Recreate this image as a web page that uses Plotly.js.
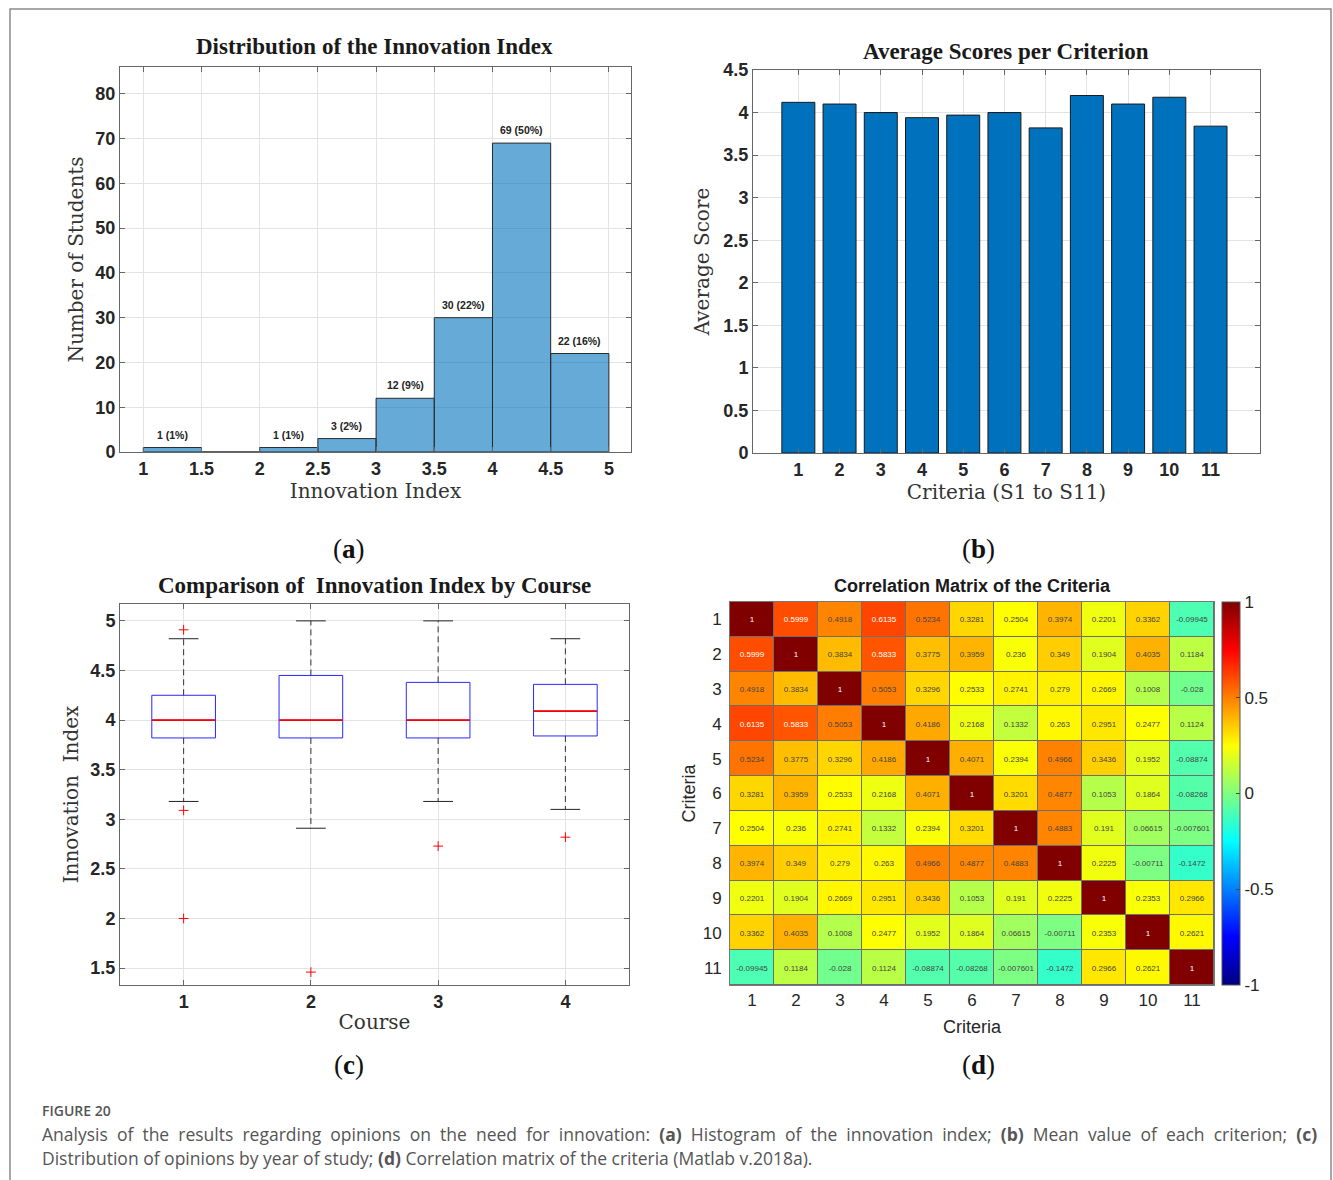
<!DOCTYPE html>
<html>
<head>
<meta charset="utf-8">
<script src="https://cdn.plot.ly/plotly-3.0.1.min.js"></script>
<style>html,body{margin:0;padding:0;background:#fff;}#chart{width:1333px;height:1180px;}</style>
</head>
<body>
<div id="chart"></div>
<script>
// ---------- DATA ----------
// (a) histogram of the innovation index
const histEdges = [1, 1.5, 2, 2.5, 3, 3.5, 4, 4.5, 5];
const histCounts = [1, 0, 1, 3, 12, 30, 69, 22];
const histTicks = [1, 1.5, 2, 2.5, 3, 3.5, 4, 4.5, 5];

// (b) average score per criterion
const criteria = [1, 2, 3, 4, 5, 6, 7, 8, 9, 10, 11];
const avgScores = [4.12, 4.10, 4.00, 3.94, 3.97, 4.00, 3.82, 4.20, 4.10, 4.18, 3.84];

// (c) box plot of innovation index by course
const courses = [1, 2, 3, 4];
const boxQ1 = [3.82, 3.82, 3.82, 3.84];
const boxMedian = [4.00, 4.00, 4.00, 4.09];
const boxQ3 = [4.25, 4.45, 4.38, 4.36];
const whiskerLow = [3.18, 2.91, 3.18, 3.10];
const whiskerHigh = [4.82, 5.00, 5.00, 4.82];
const outlierCourse = [1, 1, 1, 2, 3, 4];
const outlierValue = [4.91, 3.09, 2.00, 1.46, 2.73, 2.82];

// (d) correlation matrix of the criteria
const corr = [
  [1, 0.5999, 0.4918, 0.6135, 0.5234, 0.3281, 0.2504, 0.3974, 0.2201, 0.3362, -0.09945],
  [0.5999, 1, 0.3834, 0.5833, 0.3775, 0.3959, 0.236, 0.349, 0.1904, 0.4035, 0.1184],
  [0.4918, 0.3834, 1, 0.5053, 0.3296, 0.2533, 0.2741, 0.279, 0.2669, 0.1008, -0.028],
  [0.6135, 0.5833, 0.5053, 1, 0.4186, 0.2168, 0.1332, 0.263, 0.2951, 0.2477, 0.1124],
  [0.5234, 0.3775, 0.3296, 0.4186, 1, 0.4071, 0.2394, 0.4966, 0.3436, 0.1952, -0.08874],
  [0.3281, 0.3959, 0.2533, 0.2168, 0.4071, 1, 0.3201, 0.4877, 0.1053, 0.1864, -0.08268],
  [0.2504, 0.236, 0.2741, 0.1332, 0.2394, 0.3201, 1, 0.4883, 0.191, 0.06615, -0.007601],
  [0.3974, 0.349, 0.279, 0.263, 0.4966, 0.4877, 0.4883, 1, 0.2225, -0.00711, -0.1472],
  [0.2201, 0.1904, 0.2669, 0.2951, 0.3436, 0.1053, 0.191, 0.2225, 1, 0.2353, 0.2966],
  [0.3362, 0.4035, 0.1008, 0.2477, 0.1952, 0.1864, 0.06615, -0.00711, 0.2353, 1, 0.2621],
  [-0.09945, 0.1184, -0.028, 0.1124, -0.08874, -0.08268, -0.007601, -0.1472, 0.2966, 0.2621, 1]
];
const colorbarTicks = [-1, -0.5, 0, 0.5, 1];
const colorbarLabels = ['-1', '-0.5', '0', '0.5', '1'];

// ---------- HELPERS ----------
const W = 1333, H = 1180;
const xd = (a, b) => [a / W, b / W];
const yd = (top, bottom) => [1 - bottom / H, 1 - top / H];
const px = v => v / W;
const py = v => 1 - v / H;

const SERIF = 'Liberation Serif, Times New Roman, serif';
const WSERIF = 'DejaVu Serif, serif';
const SANS = 'Liberation Sans, Arial, sans-serif';
const CAP = 'Open Sans, Lato, sans-serif';
const tickFont = {family: SANS, size: 18, color: '#262626', weight: 700};
const axisTitleFont = {family: WSERIF, size: 20, color: '#333'};
const axisCommon = {
  showline: true, linecolor: '#666', linewidth: 1, mirror: 'allticks',
  ticks: 'inside', ticklen: 5, tickcolor: '#666',
  showgrid: true, gridcolor: '#e3e3e3', zeroline: false,
  automargin: false, tickfont: tickFont, fixedrange: true
};

// ---------- TRACES ----------
const total = histCounts.reduce((s, v) => s + v, 0);
const histCenters = histCounts.map((_, i) => (histEdges[i] + histEdges[i + 1]) / 2);
const histWidths = histCounts.map((_, i) => histEdges[i + 1] - histEdges[i]);
const histLabels = histCounts.map(c => c > 0 ? `${c} (${Math.round(100 * c / total)}%)` : '');

const traceHist = {
  type: 'bar', x: histCenters, y: histCounts, width: histWidths,
  xaxis: 'x', yaxis: 'y',
  marker: {color: 'rgba(0,114,189,0.6)', line: {color: '#2b2b2b', width: 1}},
  hoverinfo: 'skip', showlegend: false
};

const traceBars = {
  type: 'bar', x: criteria, y: avgScores, width: 0.8,
  xaxis: 'x2', yaxis: 'y2',
  marker: {color: '#0072BD', line: {color: '#1a1a1a', width: 1}},
  hoverinfo: 'skip', showlegend: false
};

const traceBox = {
  type: 'box', x: courses, q1: boxQ1, median: boxMedian, q3: boxQ3,
  lowerfence: boxQ1, upperfence: boxQ3, width: 0.5, whiskerwidth: 0,
  xaxis: 'x3', yaxis: 'y3',
  line: {color: 'rgb(40,40,255)', width: 1}, fillcolor: 'rgba(0,0,0,0)',
  boxpoints: false, hoverinfo: 'skip', showlegend: false
};

// whiskers (dashed), caps, medians
const wx = [], wy = [], cx = [], cy = [], mx = [], my = [];
courses.forEach((c, i) => {
  wx.push(c, c, null, c, c, null);
  wy.push(boxQ3[i], whiskerHigh[i], null, boxQ1[i], whiskerLow[i], null);
  cx.push(c - 0.117, c + 0.117, null, c - 0.117, c + 0.117, null);
  cy.push(whiskerHigh[i], whiskerHigh[i], null, whiskerLow[i], whiskerLow[i], null);
  mx.push(c - 0.248, c + 0.248, null);
  my.push(boxMedian[i], boxMedian[i], null);
});
const traceWhisk = {type: 'scatter', mode: 'lines', x: wx, y: wy, xaxis: 'x3', yaxis: 'y3',
  line: {color: '#333', width: 1, dash: '6px,4px'}, hoverinfo: 'skip', showlegend: false};
const traceCaps = {type: 'scatter', mode: 'lines', x: cx, y: cy, xaxis: 'x3', yaxis: 'y3',
  line: {color: '#222', width: 1}, hoverinfo: 'skip', showlegend: false};
const traceMed = {type: 'scatter', mode: 'lines', x: mx, y: my, xaxis: 'x3', yaxis: 'y3',
  line: {color: 'rgb(255,0,0)', width: 1.6}, hoverinfo: 'skip', showlegend: false};
const traceOut = {type: 'scatter', mode: 'markers', x: outlierCourse, y: outlierValue,
  xaxis: 'x3', yaxis: 'y3', cliponaxis: false,
  marker: {symbol: 'cross-thin', size: 7, line: {color: 'rgb(255,0,0)', width: 1}},
  hoverinfo: 'skip', showlegend: false};

const fmt = v => String(parseFloat(v.toPrecision(4)));
const corrText = corr.map(r => r.map(fmt));
const jet = [[0, 'rgb(0,0,128)'], [0.125, 'rgb(0,0,255)'], [0.375, 'rgb(0,255,255)'],
             [0.625, 'rgb(255,255,0)'], [0.875, 'rgb(255,0,0)'], [1, 'rgb(128,0,0)']];
const traceHeat = {
  type: 'heatmap', z: corr, x: criteria, y: criteria, xaxis: 'x4', yaxis: 'y4',
  zmin: -1, zmax: 1, colorscale: jet, xgap: 1, ygap: 1,
  text: corrText, texttemplate: '%{text}', textfont: {family: SANS, size: 8},
  hoverinfo: 'skip',
  colorbar: {
    x: 1222 / W, xanchor: 'left', xpad: 0, y: py(793.5), yanchor: 'middle', ypad: 0,
    len: 383 / H, lenmode: 'fraction', thickness: 18, thicknessmode: 'pixels',
    outlinewidth: 1, outlinecolor: '#555', tickvals: colorbarTicks, ticktext: colorbarLabels,
    ticks: 'inside', ticklen: 4, tickcolor: '#444',
    tickfont: {family: SANS, size: 17, color: '#262626'}
  }
};

// ---------- LAYOUT ----------
const serifTitle = (t, x, y) => ({text: t, x: px(x), y: py(y), xref: 'paper', yref: 'paper',
  showarrow: false, xanchor: 'center', yanchor: 'middle',
  font: {family: SERIF, size: 23, color: '#1a1a1a', weight: 700}});
const panelLabel = (l, x, y) => ({text: '(<b>' + l + '</b>)', x: px(x), y: py(y), xref: 'paper', yref: 'paper',
  showarrow: false, xanchor: 'center', yanchor: 'middle',
  font: {family: SERIF, size: 27, color: '#111'}});

// histogram count labels placed just above each bar
const histAnn = histCounts.map((c, i) => ({
  text: histLabels[i], x: histCenters[i], y: c, xref: 'x', yref: 'y', showarrow: false,
  xanchor: 'center', yanchor: 'bottom', yshift: 5,
  font: {family: SANS, size: 10.5, color: '#222', weight: 700}
})).filter(a => a.text !== '');

const just = s => s.split(' ').join(' \u00a0');

const layout = {
  width: W, height: H, margin: {l: 0, r: 0, t: 0, b: 0},
  paper_bgcolor: '#fff', plot_bgcolor: '#fff', showlegend: false,
  bargap: 0,
  xaxis: Object.assign({}, axisCommon, {domain: xd(120, 631), range: [0.8, 5.19], tickvals: histTicks,
    anchor: 'y', title: {text: 'Innovation Index', standoff: 2, font: axisTitleFont}}),
  yaxis: Object.assign({}, axisCommon, {domain: yd(67, 452), range: [0, 86], dtick: 10, anchor: 'x',
    title: {text: 'Number of Students', standoff: 6, font: axisTitleFont}}),
  xaxis2: Object.assign({}, axisCommon, {domain: xd(753, 1260), range: [-0.1, 12.2], tickvals: criteria, anchor: 'y2',
    title: {text: 'Criteria (S1 to S11)', standoff: 2, font: axisTitleFont}}),
  yaxis2: Object.assign({}, axisCommon, {domain: yd(70, 453), range: [0, 4.5], dtick: 0.5, anchor: 'x2',
    title: {text: 'Average Score', standoff: 8, font: axisTitleFont}}),
  xaxis3: Object.assign({}, axisCommon, {domain: xd(120, 629), range: [0.5, 4.5], tickvals: courses, anchor: 'y3',
    title: {text: 'Course', standoff: 4, font: axisTitleFont}}),
  yaxis3: Object.assign({}, axisCommon, {domain: yd(604, 985), range: [1.33, 5.17], dtick: 0.5, anchor: 'x3',
    title: {text: 'Innovation\u00a0\u00a0Index', standoff: 6, font: axisTitleFont}}),
  xaxis4: {domain: xd(730, 1214), anchor: 'y4', showline: true, mirror: true, linecolor: '#777', linewidth: 1,
    ticks: '', showgrid: false, zeroline: false, automargin: false, fixedrange: true,
    tickvals: criteria, tickfont: {family: SANS, size: 17, color: '#262626'},
    title: {text: 'Criteria', standoff: 10, font: {family: SANS, size: 18, color: '#262626'}}},
  yaxis4: {domain: yd(602, 985), anchor: 'x4', autorange: 'reversed', showline: true, mirror: true,
    linecolor: '#777', linewidth: 1, ticks: '', showgrid: false, zeroline: false, automargin: false,
    fixedrange: true, tickvals: criteria, ticklabelstandoff: 4,
    tickfont: {family: SANS, size: 17, color: '#262626'},
    title: {text: 'Criteria', standoff: 2, font: {family: SANS, size: 18, color: '#262626'}}},
  shapes: [
    {type: 'rect', xref: 'x4 domain', yref: 'y4 domain', x0: 0, x1: 1, y0: 0, y1: 1,
     fillcolor: '#6e6e6e', line: {width: 0}, layer: 'below'},
    {type: 'path', xref: 'paper', yref: 'paper',
     path: `M ${px(10)} ${py(1180)} L ${px(10)} ${py(9)} L ${px(1331)} ${py(9)} L ${px(1331)} ${py(1180)}`,
     line: {color: '#8a8a8a', width: 1.5}}
  ],
  annotations: histAnn.concat([
    serifTitle('Distribution of the Innovation Index', 375, 47),
    serifTitle('Average Scores per Criterion', 1006, 51),
    serifTitle('Comparison of\u00a0\u00a0Innovation Index by Course', 375, 585),
    {text: 'Correlation Matrix of the Criteria', x: px(972), y: py(586), xref: 'paper', yref: 'paper',
     showarrow: false, xanchor: 'center', yanchor: 'middle',
     font: {family: SANS, size: 18, color: '#1a1a1a', weight: 700}},
    panelLabel('a', 349, 549), panelLabel('b', 978, 549),
    panelLabel('c', 349, 1065), panelLabel('d', 978, 1065),
    {text: 'FIGURE 20', x: px(40), y: py(1110), xref: 'paper', yref: 'paper', showarrow: false,
     xanchor: 'left', yanchor: 'middle', font: {family: CAP, size: 14, color: '#555', weight: 600}},
    {text: just('Analysis of the results regarding opinions on the need for innovation: <b>(a)</b> Histogram of the innovation index; <b>(b)</b> Mean value of each criterion; <b>(c)</b>'),
     x: px(40), y: py(1134), xref: 'paper', yref: 'paper', showarrow: false, xanchor: 'left', yanchor: 'middle',
     font: {family: CAP, size: 17.5, color: '#555'}},
    {text: 'Distribution of opinions by year of study; <b>(d)</b> Correlation matrix of the criteria (Matlab v.2018a).',
     x: px(40), y: py(1158), xref: 'paper', yref: 'paper', showarrow: false, xanchor: 'left', yanchor: 'middle',
     font: {family: CAP, size: 17.5, color: '#555'}}
  ])
};

Plotly.newPlot('chart', [traceHist, traceBars, traceBox, traceWhisk, traceCaps, traceMed, traceOut, traceHeat],
  layout, {staticPlot: true, displayModeBar: false});
</script>
</body>
</html>
